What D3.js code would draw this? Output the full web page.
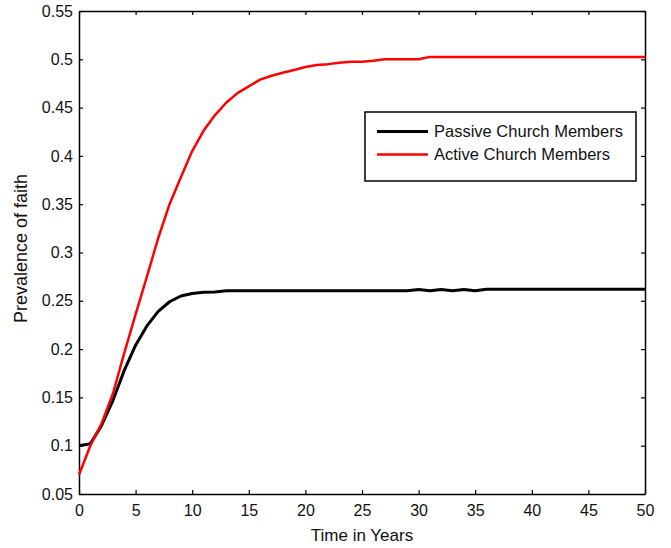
<!DOCTYPE html>
<html>
<head>
<meta charset="utf-8">
<script src="https://cdn.jsdelivr.net/npm/d3@7"></script>
<style>
  html, body { margin: 0; padding: 0; background: #fff; }
  svg { display: block; font-family: "Liberation Sans", Arial, sans-serif; }
</style>
</head>
<body>
<svg id="chart" width="671" height="548"></svg>
<script>
const years = d3.range(0, 51);
const passive = [
  0.100, 0.102, 0.121, 0.147, 0.178, 0.204, 0.224, 0.239, 0.249, 0.255,
  0.2575, 0.2588, 0.259, 0.2603, 0.2605, 0.2605, 0.2605, 0.2605, 0.2605, 0.2605,
  0.2605, 0.2605, 0.2605, 0.2605, 0.2605, 0.2605, 0.2605, 0.2605, 0.2605, 0.2605,
  0.2617, 0.2603, 0.2617, 0.2605, 0.2617, 0.2603, 0.262, 0.262, 0.262, 0.262,
  0.262, 0.262, 0.262, 0.262, 0.262, 0.262, 0.262, 0.262, 0.262, 0.262, 0.262
];
const active = [
  0.070, 0.100, 0.123, 0.154, 0.196, 0.236, 0.275, 0.315, 0.350, 0.378,
  0.405, 0.426, 0.442, 0.455, 0.465, 0.472, 0.479, 0.483, 0.486, 0.489,
  0.492, 0.494, 0.495, 0.4965, 0.4975, 0.4975, 0.4985, 0.5, 0.5, 0.5,
  0.5, 0.5025, 0.5025, 0.5025, 0.5025, 0.5025, 0.5025, 0.5025, 0.5025, 0.5025,
  0.5025, 0.5025, 0.5025, 0.5025, 0.5025, 0.5025, 0.5025, 0.5025, 0.5025, 0.5025, 0.5025
];
const xTicks = [0, 5, 10, 15, 20, 25, 30, 35, 40, 45, 50];
const yTicks = [0.05, 0.1, 0.15, 0.2, 0.25, 0.3, 0.35, 0.4, 0.45, 0.5, 0.55];
const seriesNames = ["Passive Church Members", "Active Church Members"];
const seriesColors = ["#000000", "#ff0000"];

const svg = d3.select("#chart");
const margin = { left: 79, top: 11, right: 26, bottom: 54 };
const W = 671, H = 548;
const iw = W - margin.left - margin.right;
const ih = H - margin.top - margin.bottom;

const x = d3.scaleLinear().domain([0, 50]).range([margin.left, margin.left + iw]);
const y = d3.scaleLinear().domain([0.05, 0.55]).range([margin.top + ih, margin.top]);

const fmtY = d => d3.format("")(+d.toFixed(2));

function styleAxis(g) {
  g.selectAll("path.domain").attr("stroke", "#000").attr("stroke-width", 1.5);
  g.selectAll(".tick line").attr("stroke", "#000").attr("stroke-width", 1.2);
  g.selectAll(".tick text").attr("fill", "#111").style("font-size", "16px")
    .style("font-family", "'Liberation Sans', Arial, sans-serif");
}

// bottom
svg.append("g").attr("transform", `translate(0,${margin.top + ih})`)
  .call(d3.axisBottom(x).tickValues(xTicks).tickSizeInner(-4).tickSizeOuter(0).tickPadding(11))
  .call(styleAxis);
// top
svg.append("g").attr("transform", `translate(0,${margin.top})`)
  .call(d3.axisTop(x).tickValues(xTicks).tickSizeInner(-4).tickSizeOuter(0).tickFormat(""))
  .call(styleAxis);
// left
svg.append("g").attr("transform", `translate(${margin.left},0)`)
  .call(d3.axisLeft(y).tickValues(yTicks).tickSizeInner(-4).tickSizeOuter(0).tickPadding(6).tickFormat(fmtY))
  .call(styleAxis);
// right
svg.append("g").attr("transform", `translate(${margin.left + iw},0)`)
  .call(d3.axisRight(y).tickValues(yTicks).tickSizeInner(-4).tickSizeOuter(0).tickFormat(""))
  .call(styleAxis);

const line = d3.line().x((d, i) => x(years[i])).y(d => y(d)).curve(d3.curveLinear);

svg.append("path").datum(passive).attr("d", line)
  .attr("fill", "none").attr("stroke", seriesColors[0]).attr("stroke-width", 3)
  .attr("stroke-linejoin", "round");
svg.append("path").datum(active).attr("d", line)
  .attr("fill", "none").attr("stroke", seriesColors[1]).attr("stroke-width", 2.5)
  .attr("stroke-linejoin", "round");

// axis titles
svg.append("text").attr("x", x(25)).attr("y", 541)
  .attr("text-anchor", "middle").style("font-size", "17px").attr("fill", "#111")
  .text("Time in Years");
svg.append("text").attr("transform", `translate(27,${y(0.3) - 4}) rotate(-90)`)
  .attr("text-anchor", "middle").style("font-size", "18px").attr("fill", "#111")
  .text("Prevalence of faith");

// legend
const lg = svg.append("g");
lg.append("rect").attr("x", 365).attr("y", 112).attr("width", 271).attr("height", 69)
  .attr("fill", "#fff").attr("stroke", "#000").attr("stroke-width", 1.5);
seriesNames.forEach((name, i) => {
  const cy = 131.5 + i * 23;
  lg.append("line").attr("x1", 377).attr("x2", 428).attr("y1", cy).attr("y2", cy)
    .attr("stroke", seriesColors[i]).attr("stroke-width", i === 0 ? 3 : 2.5);
  lg.append("text").attr("x", 434).attr("y", cy).attr("dy", "0.35em")
    .style("font-size", "16.5px").attr("fill", "#111").text(name);
});
</script>
</body>
</html>
